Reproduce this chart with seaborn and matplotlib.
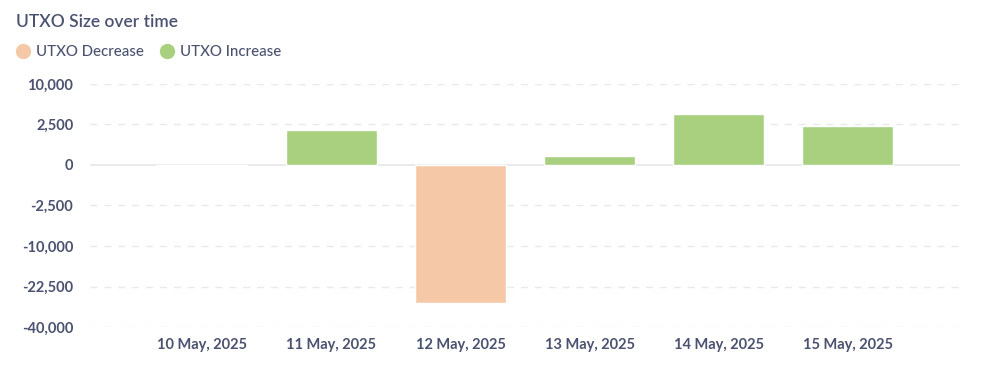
import numpy as np
import pandas as pd
import seaborn as sns
import matplotlib.pyplot as plt
from matplotlib.lines import Line2D
from matplotlib.ticker import FuncFormatter

# data
dates = ["10 May, 2025", "11 May, 2025", "12 May, 2025",
         "13 May, 2025", "14 May, 2025", "15 May, 2025"]
utxo_change = [0, 1870, -28900, 125, 3970, 2320]
y_ticks = [-40000, -22500, -10000, -2500, 0, 2500, 10000]

df = pd.DataFrame({"date": dates, "change": utxo_change})
df["kind"] = np.where(df["change"] < 0, "UTXO Decrease", "UTXO Increase")

green = "#a8d07f"
orange = "#f5c9a8"
txt = "#4a5270"

sns.set_style("white")
plt.rcParams["font.family"] = ["Lato", "DejaVu Sans"]

fig = plt.figure(figsize=(9.87, 3.65), dpi=100)
ax = fig.add_axes([0.0912, 0.1041, 0.8814, 0.6658])

# signed square-root scale
fwd = lambda v: np.sign(v) * np.sqrt(np.abs(v))
inv = lambda v: np.sign(v) * v ** 2
ax.set_yscale("function", functions=(fwd, inv))

sns.barplot(data=df, x="date", y="change", hue="kind", order=dates,
            palette={"UTXO Decrease": orange, "UTXO Increase": green},
            dodge=False, width=0.71, legend=False, ax=ax, saturation=1)

ax.set_ylim(-40000, 10000)
ax.set_xlim(-0.87, 5.87)
ax.set_yticks(y_ticks)
ax.yaxis.set_major_formatter(FuncFormatter(lambda v, p: f"{v:,.0f}"))

for t in y_ticks:
    if t == 0:
        ax.axhline(0, color="#e6e6e6", lw=1.2, zorder=0)
    else:
        ax.axhline(t, color="#e9e9e9", lw=1, ls=(0, (5, 5)), zorder=0)

for s in ax.spines.values():
    s.set_visible(False)
ax.set_xlabel("")
ax.set_ylabel("")
ax.tick_params(axis="both", length=0, colors=txt, labelsize=10.5)
ax.tick_params(axis="y", pad=12)
ax.tick_params(axis="x", pad=8)
for lbl in ax.get_xticklabels() + ax.get_yticklabels():
    lbl.set_fontweight("bold")

fig.text(0.016, 0.94, "UTXO Size over time", fontsize=12.5, color=txt,
         fontweight="semibold", va="center", ha="left")

handles = [Line2D([], [], marker="o", ls="", markersize=10, color=orange),
           Line2D([], [], marker="o", ls="", markersize=10, color=green)]
leg = fig.legend(handles, ["UTXO Decrease", "UTXO Increase"], loc="center left",
                 bbox_to_anchor=(0.0172, 0.857), ncol=2, frameon=False,
                 fontsize=10.8, labelcolor=txt, handlelength=0.8,
                 handletextpad=0.5, columnspacing=1.1,
                 borderpad=0, borderaxespad=0)
for t in leg.get_texts():
    t.set_fontweight("medium")

fig.savefig("out.png", dpi=100)
